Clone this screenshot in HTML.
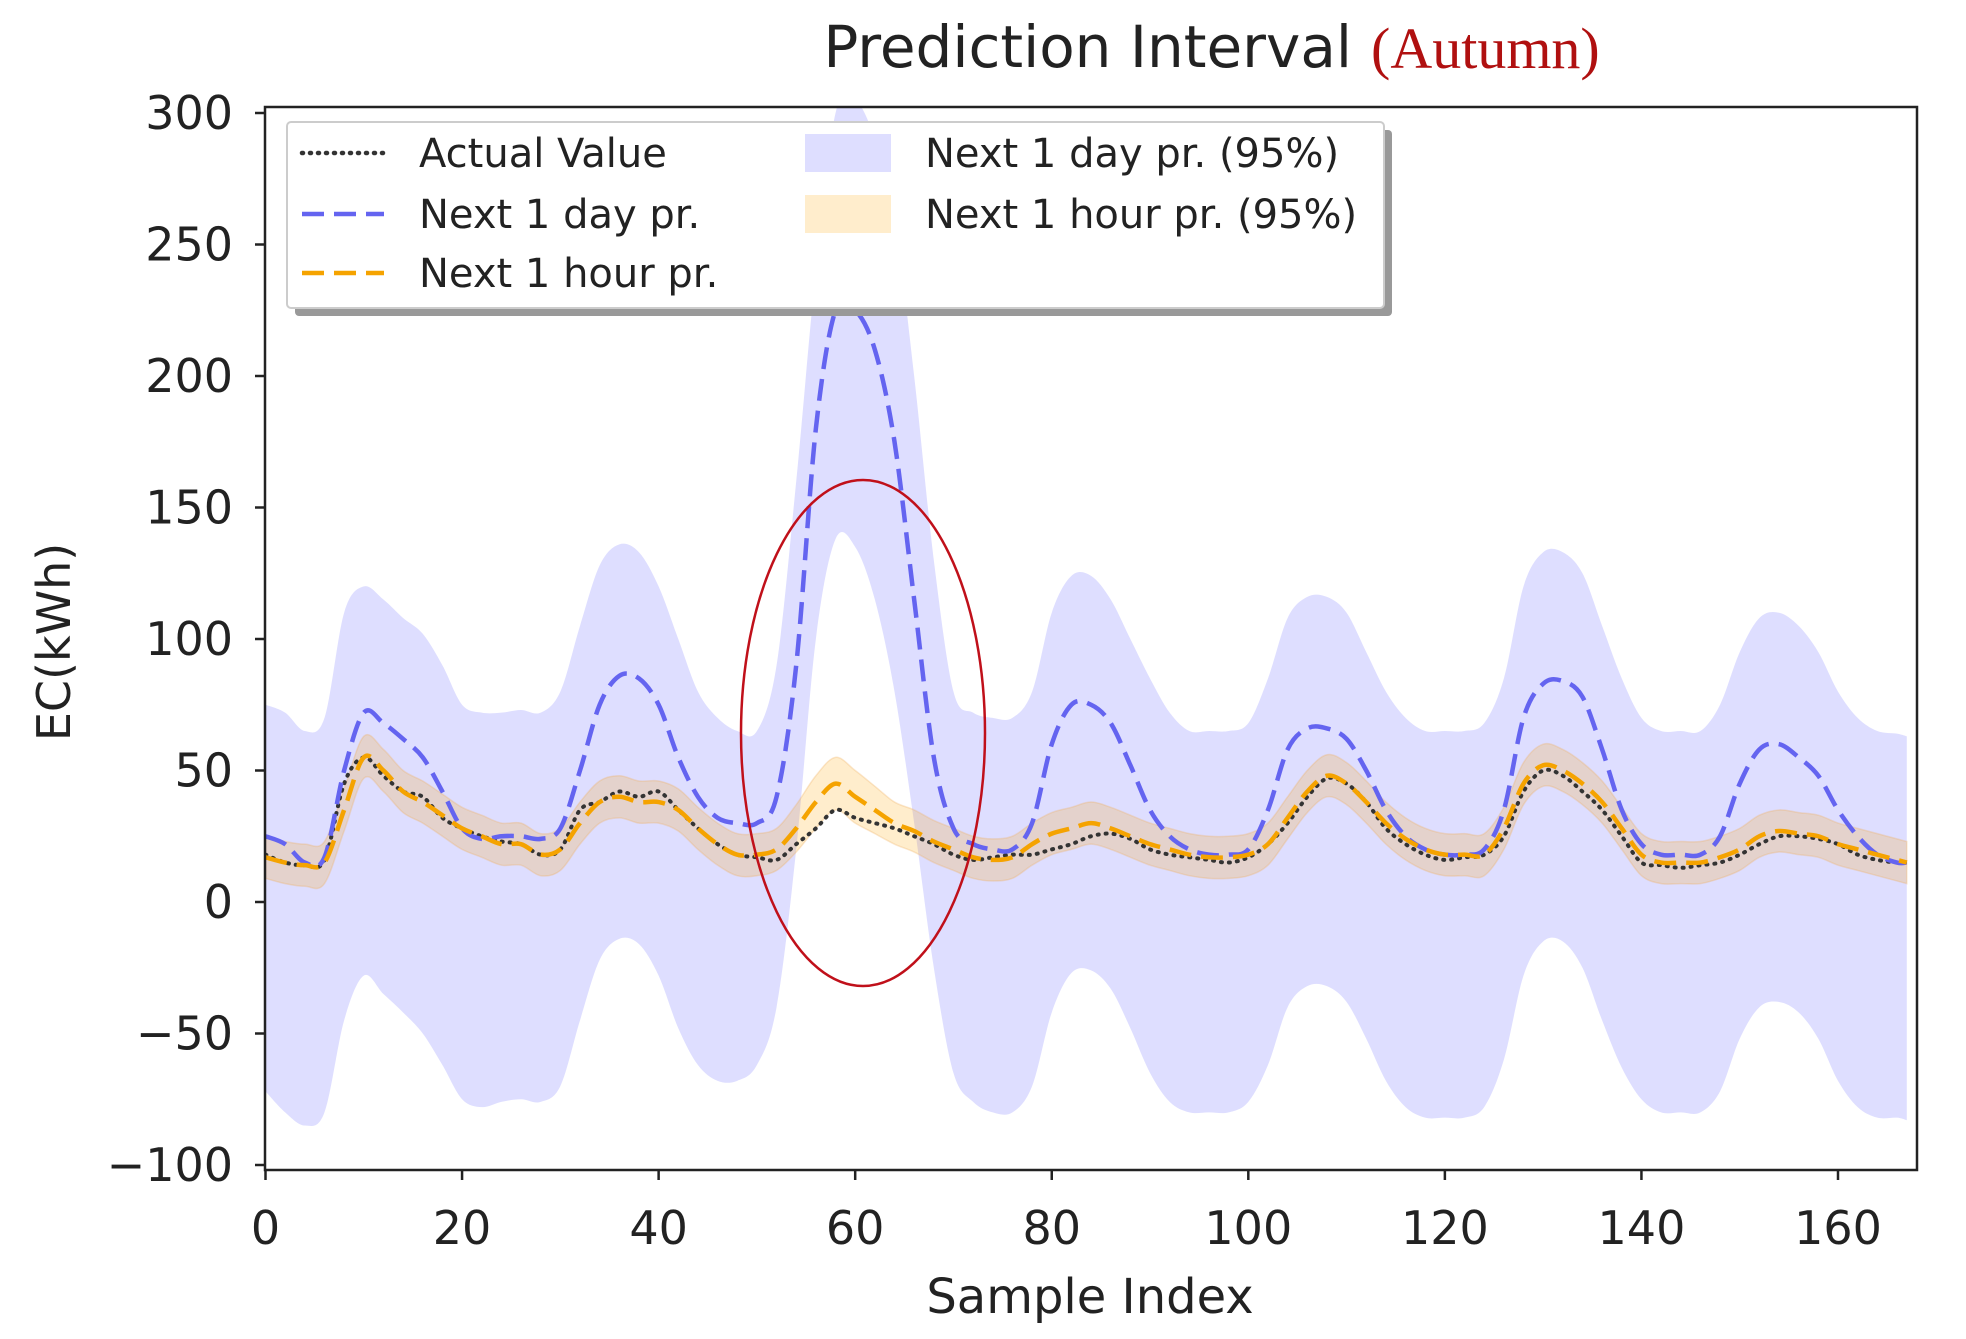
<!DOCTYPE html>
<html><head><meta charset="utf-8"><style>
html,body{margin:0;padding:0;background:#fff;}
svg{display:block;font-family:"DejaVu Sans","Liberation Sans",sans-serif;}
</style></head><body>
<svg id="chart" width="1966" height="1339" viewBox="0 0 1966 1339" xmlns="http://www.w3.org/2000/svg">
<g id="plot"></g>
</svg>
<script>
const sampleIdx = [0,2,4,6,8,10,12,14,16,18,20,22,24,26,28,30,32,34,36,38,40,42,44,46,48,50,52,54,56,58,60,62,64,66,68,70,72,74,76,78,80,82,84,86,88,90,92,94,96,98,100,102,104,106,108,110,112,114,116,118,120,122,124,126,128,130,132,134,136,138,140,142,144,146,148,150,152,154,156,158,160,162,164,166,167];
const dayPred = [25,22,15,17,50,72,68,62,55,42,28,24,25,25,24,28,50,75,86,85,75,55,40,32,30,30,40,90,180,225,225,210,175,115,55,28,22,20,20,30,60,75,75,68,52,35,25,20,18,18,20,35,58,66,66,62,50,35,25,20,18,18,20,35,70,83,84,78,58,35,22,18,18,18,25,45,58,60,55,48,35,25,18,15,15];
const dayUpper = [75,72,65,70,110,120,115,108,102,90,75,72,72,73,72,80,105,128,136,133,120,100,80,70,65,65,90,160,240,300,305,290,260,200,130,80,72,70,70,80,110,124,124,115,100,85,72,65,65,65,68,85,108,116,116,110,95,80,70,65,65,65,68,85,120,133,133,125,105,85,70,65,65,65,75,95,108,110,105,95,80,70,65,64,63];
const dayLower = [-72,-80,-85,-80,-45,-28,-35,-42,-50,-62,-75,-78,-76,-75,-76,-70,-45,-22,-14,-16,-28,-48,-62,-68,-68,-62,-40,20,100,138,135,115,80,30,-25,-65,-76,-80,-80,-70,-42,-27,-26,-33,-48,-65,-76,-80,-80,-80,-76,-62,-40,-32,-32,-38,-52,-68,-78,-82,-82,-82,-78,-60,-28,-15,-15,-25,-45,-63,-75,-80,-80,-80,-72,-52,-40,-38,-42,-52,-68,-78,-82,-82,-83];
const actual = [18,15,14,16,45,55,48,42,40,32,28,25,23,22,18,20,35,38,42,40,42,35,28,22,18,17,16,22,28,35,32,30,28,25,22,18,16,17,18,18,20,22,25,26,24,20,18,17,16,15,17,22,30,40,47,45,38,28,22,18,16,17,18,25,42,50,48,42,35,25,15,14,13,14,15,18,22,25,25,24,22,18,16,15,15];
const hourPred = [17,15,14,15,35,55,50,42,38,33,28,25,22,22,18,20,30,38,40,38,38,35,28,22,18,18,20,28,38,45,40,35,30,27,23,20,17,16,17,22,26,28,30,28,25,22,20,18,17,17,18,22,32,42,48,45,38,30,24,20,18,18,18,28,45,52,50,45,38,28,18,15,15,15,17,20,25,27,26,25,22,20,18,16,15];
const hourHalfWidth = [8,8,8,8,8,8,8,8,8,8,8,8,8,8,8,8,8,8,8,8,8,8,8,8,8,8,8,9,10,10,10,9,8,8,8,8,8,8,8,8,8,8,8,8,8,8,8,8,8,8,8,8,8,8,8,8,8,8,8,8,8,8,8,8,8,8,8,8,8,8,8,8,8,8,8,8,8,8,8,8,8,8,8,8,8];
const xTicks = [0,20,40,60,80,100,120,140,160];
const yTicks = [300,250,200,150,100,50,0,-50,-100];
const yTickLabels = ["300","250","200","150","100","50","0","\u221250","\u2212100"];

const L=265, R=1917, T=107, B=1170;
function xs(v){return 265.5 + v*(1838-265.5)/160;}
function ys(v){return 902 - v*(902-113)/300;}
const NS="http://www.w3.org/2000/svg";
const svg=document.getElementById('chart'), plot=document.getElementById('plot');
function mk(tag,attrs,parent){const e=document.createElementNS(NS,tag);for(const k in attrs)e.setAttribute(k,attrs[k]);(parent||svg).appendChild(e);return e;}
function smooth(pts){let d=`M${pts[0][0]},${pts[0][1]}`;for(let i=0;i<pts.length-1;i++){const p0=pts[i-1]||pts[i],p1=pts[i],p2=pts[i+1],p3=pts[i+2]||p2;const c1x=p1[0]+(p2[0]-p0[0])/6,c1y=p1[1]+(p2[1]-p0[1])/6,c2x=p2[0]-(p3[0]-p1[0])/6,c2y=p2[1]-(p3[1]-p1[1])/6;d+=` C${c1x},${c1y} ${c2x},${c2y} ${p2[0]},${p2[1]}`;}return d;}
function pts(arr){return sampleIdx.map((s,i)=>[xs(s),ys(arr[i])]);}
function band(up,lo){const u=pts(up),l=pts(lo).reverse();return smooth(u)+' L'+l[0][0]+','+l[0][1]+smooth(l).replace(/^M[^C]*/,' ')+' Z';}

mk('defs',{}).innerHTML='<clipPath id="clip"><rect x="'+L+'" y="'+T+'" width="'+(R-L)+'" height="'+(B-T)+'"/></clipPath>';
const g=mk('g',{'clip-path':'url(#clip)'},plot);
let e;
e=mk('path',{d:band(dayUpper,dayLower),fill:'#0000ff','fill-opacity':'0.13',stroke:'none'},g);


const hu=hourPred.map((v,i)=>v+hourHalfWidth[i]), hl=hourPred.map((v,i)=>v-hourHalfWidth[i]);
e=mk('path',{d:band(hu,hl),fill:'#ffa500','fill-opacity':'0.2',stroke:'#f0b060','stroke-opacity':'0.3','stroke-width':'1.5'},g);


e=mk('path',{d:smooth(pts(actual)),fill:'none',stroke:'#333','stroke-width':'4','stroke-dasharray':'1 7','stroke-linecap':'round'},g);


e=mk('path',{d:smooth(pts(dayPred)),fill:'none',stroke:'#6464f0','stroke-width':'4.5','stroke-dasharray':'22 10'},g);


e=mk('path',{d:smooth(pts(hourPred)),fill:'none',stroke:'#f5a300','stroke-width':'4.5','stroke-dasharray':'22 10'},g);



e=mk('rect',{x:L,y:T,width:R-L,height:B-T,fill:'none',stroke:'#222','stroke-width':'2.5'},plot);


xTicks.forEach(v=>{
  let t=mk('line',{x1:xs(v),x2:xs(v),y1:B,y2:B+10,stroke:'#222','stroke-width':'2.5'},plot);
  
  
  t=mk('text',{x:xs(v),y:1244,'text-anchor':'middle','font-size':'46',fill:'#222'},plot);t.textContent=v;
  
  
});
yTicks.forEach((v,i)=>{
  let t=mk('line',{x1:L-10,x2:L,y1:ys(v),y2:ys(v),stroke:'#222','stroke-width':'2.5'},plot);
  
  
  t=mk('text',{x:L-32,y:ys(v)+16,'text-anchor':'end','font-size':'46',fill:'#222'},plot);t.textContent=yTickLabels[i];
  
  
});
e=mk('text',{x:1090,y:1313,'text-anchor':'middle','font-size':'48',fill:'#222'},plot);e.textContent='Sample Index';


e=mk('text',{x:0,y:0,transform:'translate(70,642) rotate(-90)','text-anchor':'middle','font-size':'46',fill:'#222'},plot);e.textContent='EC(kWh)';


e=mk('text',{x:1352,y:67,'text-anchor':'end','font-size':'58',fill:'#222'},plot);e.textContent='Prediction Interval';


e=mk('text',{x:1371,y:68,'font-size':'58',fill:'#b01010','font-family':'Liberation Serif, serif'},plot);e.textContent='(Autumn)';



// legend
const lg=mk('g',{},plot);


mk('rect',{x:295,y:130,width:1097,height:186,fill:'#999',rx:4},lg);
mk('rect',{x:287,y:122,width:1097,height:186,fill:'#fff',stroke:'#ccc','stroke-width':'2',rx:4},lg);
const rows=[153,214,273];
const lines=[['#333','1 7','Actual Value','legend-actual'],['#6464f0','22 10','Next 1 day pr.','legend-day'],['#f5a300','22 10','Next 1 hour pr.','legend-hour']];
lines.forEach((l,i)=>{
  const ent=mk('g',{},lg);
  
  
  mk('line',{x1:302,x2:384,y1:rows[i],y2:rows[i],stroke:l[0],'stroke-width':'4.5','stroke-dasharray':l[1],'stroke-linecap':i==0?'round':'butt'},ent);
  const t=mk('text',{x:419,y:rows[i]+14,'font-size':'40',fill:'#222'},ent);t.textContent=l[2];
});
const patches=[['#0000ff','0.13','Next 1 day pr. (95%)','legend-day-band'],['#ffa500','0.2','Next 1 hour pr. (95%)','legend-hour-band']];
patches.forEach((p,i)=>{
  const ent=mk('g',{},lg);
  
  
  mk('rect',{x:805,y:rows[i]-19,width:86,height:38,fill:p[0],'fill-opacity':p[1]},ent);
  const t=mk('text',{x:925,y:rows[i]+14,'font-size':'40',fill:'#222'},ent);t.textContent=p[2];
});
e=mk('ellipse',{cx:863,cy:733,rx:122,ry:253,fill:'none',stroke:'#c0101a','stroke-width':'2.5'},plot);


</script>
</body></html>
